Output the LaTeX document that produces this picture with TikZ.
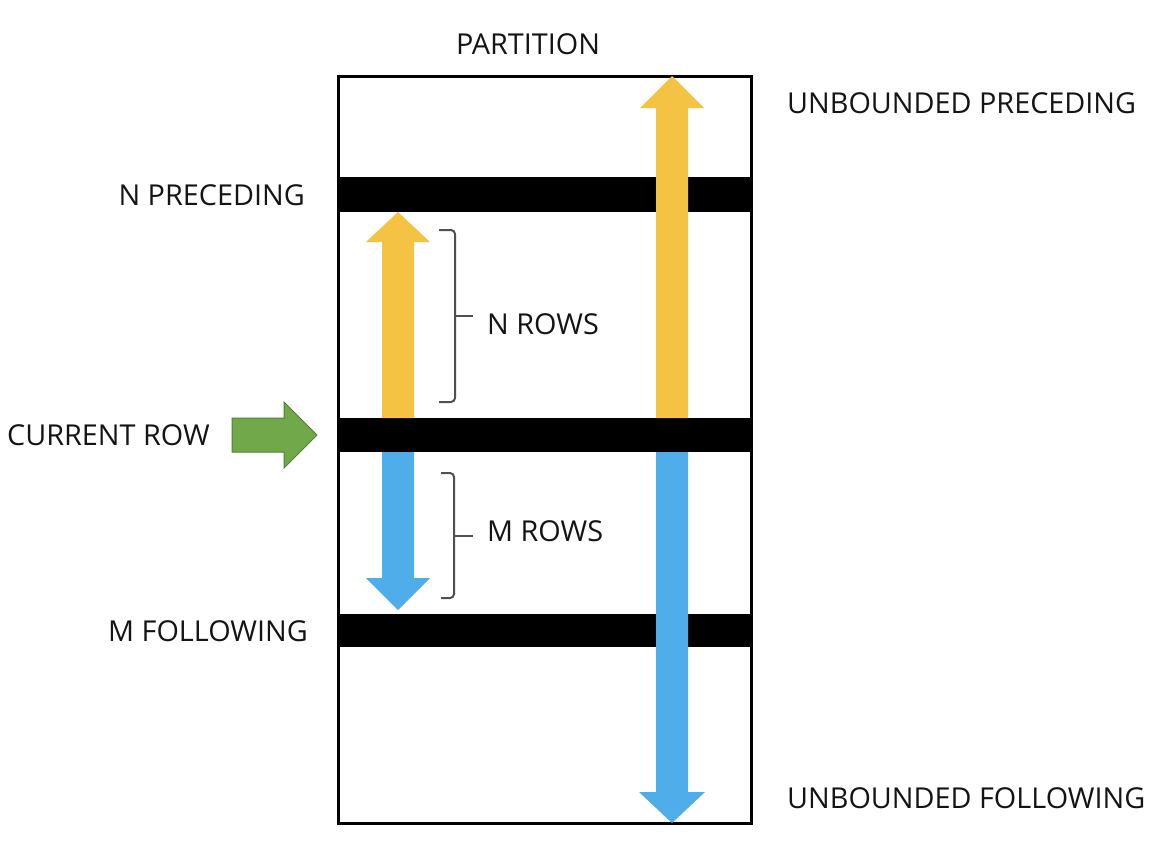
\documentclass[tikz,border=0pt]{standalone}
\usepackage{fontspec}
\setmainfont{Open Sans}
\definecolor{goldY}{HTML}{F4C343}
\definecolor{skyB}{HTML}{4FADEA}
\definecolor{leafG}{HTML}{70A84A}
\definecolor{leafGd}{HTML}{537F35}
\definecolor{braceC}{HTML}{505050}
\begin{document}
\begin{tikzpicture}[x=1pt,y=-1pt,
  lbl/.style={inner sep=0pt, font=\fontsize{28.8}{30}\selectfont, text height=20.6pt, text depth=0pt, text=black!92},
  bar/.style={fill=black},
  brk/.style={draw=braceC, line width=2pt, rounded corners=4pt}]
\useasboundingbox (0,0) rectangle (1176,860);
% frame
\draw[line width=3pt] (338,76) rectangle (751,823);
% bars
\fill[bar] (338,177) rectangle (751,212);
\fill[bar] (338,418) rectangle (751,452);
\fill[bar] (338,614) rectangle (751,647);
% big yellow arrow
\fill[goldY] (656,418) -- (656,108) -- (640,108) -- (672,76) -- (704,108) -- (688,108) -- (688,418) -- cycle;
% small yellow arrow
\fill[goldY] (382,418) -- (382,242) -- (366,242) -- (398,212) -- (430,242) -- (414,242) -- (414,418) -- cycle;
% small blue arrow
\fill[skyB] (382,452) -- (382,578) -- (366,578) -- (398,610) -- (430,578) -- (414,578) -- (414,452) -- cycle;
% big blue arrow
\fill[skyB] (656,452) -- (656,792) -- (639,792) -- (672,823) -- (705,792) -- (688,792) -- (688,452) -- cycle;
% green arrow
\filldraw[fill=leafG, draw=leafGd, line width=1pt] (232,418) -- (284,418) -- (284,402) -- (317,435) -- (284,468) -- (284,452) -- (232,452) -- cycle;
% braces
\draw[brk] (439,230) -- (455,230) -- (455,402) -- (439,402);
\draw[draw=braceC, line width=2pt] (455,316) -- (473,316);
\draw[brk] (441,473) -- (454,473) -- (454,598) -- (441,598);
\draw[draw=braceC, line width=2pt] (454,536) -- (473,536);
% labels
\node[lbl, anchor=center] (partition) at (528,44) {PARTITION};
\node[lbl, anchor=west] (unbp) at (787,103) {UNBOUNDED PRECEDING};
\node[lbl, anchor=east] (npre) at (305,195) {N PRECEDING};
\node[lbl, anchor=west] (nrows) at (487,324) {N ROWS};
\node[lbl, anchor=west] (crow) at (7,435) {CURRENT ROW};
\node[lbl, anchor=west] (mrows) at (487,531) {M ROWS};
\node[lbl, anchor=east] (mfol) at (308,631) {M FOLLOWING};
\node[lbl, anchor=west] (unbf) at (787,798) {UNBOUNDED FOLLOWING};
\end{tikzpicture}
\end{document}
